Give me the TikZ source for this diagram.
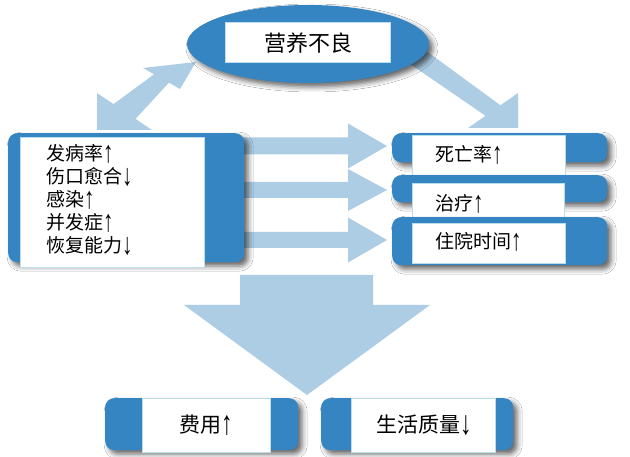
\documentclass[tikz,border=0pt]{standalone}
\usepackage{fontspec}
\setmainfont{Noto Sans CJK SC}
\newfontfamily\arrfont{Liberation Sans}
\usetikzlibrary{shapes.geometric,shadows.blur}
\definecolor{myblue}{HTML}{3485C1}
\definecolor{lightarr}{HTML}{ADCDE4}
\definecolor{edgeblue}{HTML}{BCDDEB}
\newcommand\arrU{\raisebox{-0.1em}{\scalebox{1.1}[1.6]{\arrfont ↑}}}
\newcommand\arrD{\raisebox{-0.1em}{\scalebox{1.1}[1.6]{\arrfont ↓}}}
\tikzset{
  myshadow/.style={blur shadow={shadow xshift=4pt, shadow yshift=-4pt, shadow blur radius=5pt, shadow opacity=60}},
  darkbox/.style={fill=myblue, rounded corners=9pt, inner sep=0pt, anchor=north west, myshadow},
  whitebox/.style={fill=white, draw=edgeblue, line width=1.3pt, inner sep=0pt, anchor=north west},
  fatarrow/.style={fill=lightarr},
  txt/.style={inner sep=0pt, font=\fontsize{19pt}{23pt}\selectfont},
  bigtxt/.style={inner sep=0pt, font=\fontsize{21pt}{25pt}\selectfont},
}
\begin{document}
\begin{tikzpicture}[x=1pt,y=-1pt]
\fill[white] (0,0) rectangle (630,457);
\useasboundingbox (0,0) rectangle (630,457);

% fat arrows
\fill[fatarrow] (97,130) -- (97,93) -- (113.5,104.1) -- (154.1,74.3) -- (143,68) -- (196,62)
  -- (180,89) -- (168.9,82.7) -- (135.5,118.9) -- (152,130) -- cycle;
\fill[fatarrow] (418,45) -- (500.5,105.3) -- (518,93) -- (518,128) -- (468,128)
  -- (485.5,115.8) -- (400,57) -- cycle;
\fill[fatarrow] (236,137.5) -- (348,137.5) -- (348,123.5) -- (387,146) -- (348,168.5) -- (348,154.5) -- (236,154.5) -- cycle;
\fill[fatarrow] (236,182) -- (348,182) -- (348,169) -- (387,190) -- (348,211) -- (348,198) -- (236,198) -- cycle;
\fill[fatarrow] (236,232) -- (348,232) -- (348,217.5) -- (387,240) -- (348,262.5) -- (348,248) -- (236,248) -- cycle;
\fill[fatarrow] (240,275) -- (373,275) -- (373,305) -- (430,305) -- (307,395) -- (184,305) -- (240,305) -- cycle;

% left box
\node[darkbox, minimum width=236pt, minimum height=129pt] (Lbg) at (8,133) {};
\node[whitebox, minimum width=184pt, minimum height=130pt] (Lw) at (20,137) {};
\node[txt, anchor=west, align=left] (tl) at (46,199.5) {发病率\arrU\\伤口愈合\arrD\\感染\arrU\\并发症\arrU\\恢复能力\arrD};

% right boxes
\node[darkbox, minimum width=215pt, minimum height=29pt] (R1bg) at (392,133) {};
\node[whitebox, minimum width=153pt, minimum height=40pt] (R1w) at (412,135) {};
\node[darkbox, minimum width=215pt, minimum height=27pt] (R2bg) at (392,175) {};
\node[whitebox, minimum width=152pt, minimum height=39pt] (R2w) at (412,183) {};
\node[darkbox, minimum width=215pt, minimum height=48pt] (R3bg) at (392,217) {};
\node[whitebox, minimum width=153pt, minimum height=40pt] (R3w) at (412,223) {};
\node[txt, anchor=west] (t1) at (435,155) {死亡率\arrU};
\node[txt, anchor=west] (t2) at (435,204) {治疗\arrU};
\node[txt, anchor=west] (t3) at (435,242) {住院时间\arrU};

% ellipse
\node[ellipse, fill=myblue, minimum width=242pt, minimum height=78pt, inner sep=0pt, myshadow] (mal) at (308,44) {};
\node[whitebox, minimum width=165pt, minimum height=40pt] (Ew) at (225,22) {};
\node[inner sep=0pt, font=\fontsize{22pt}{26pt}\selectfont] (t0) at (Ew.center) {营养不良};

% bottom boxes
\node[darkbox, minimum width=193pt, minimum height=52pt] (B1bg) at (105,398) {};
\node[whitebox, minimum width=128pt, minimum height=54pt] (B1w) at (142,398) {};
\node[bigtxt] (b1) at (206,425) {费用\arrU};
\node[darkbox, minimum width=192pt, minimum height=52pt] (B2bg) at (321,398) {};
\node[whitebox, minimum width=144pt, minimum height=54pt] (B2w) at (351,398) {};
\node[bigtxt] (b2) at (424,425) {生活质量\arrD};
\end{tikzpicture}
\end{document}
